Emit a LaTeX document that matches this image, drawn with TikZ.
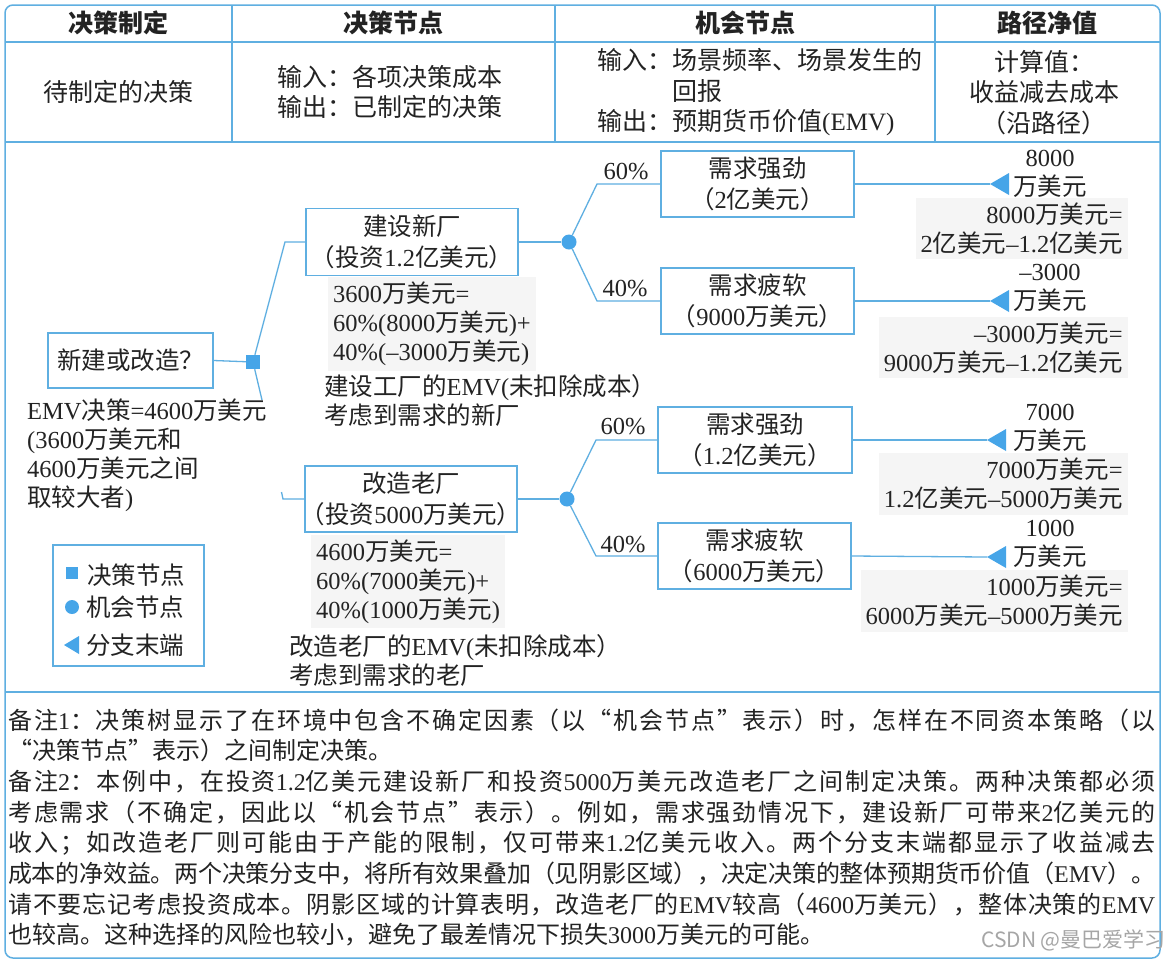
\documentclass[tikz,border=0pt]{standalone}
\usepackage{fontspec}
\setmainfont{Liberation Serif}
\newfontfamily\cjkfont{Noto Sans CJK SC}
\newfontfamily\latfont{Liberation Serif}
\newfontfamily\wmfont{Noto Sans CJK SC}
\newcount\mycc
\chardef\CJKcls=100
\def\setcjkrange#1#2{\mycc=#1\relax
  \loop\XeTeXcharclass\mycc=\CJKcls\relax
  \advance\mycc by 1\relax
  \ifnum\mycc<#2\repeat}
\setcjkrange{"3000}{"3040}
\setcjkrange{"4E00}{"A000}
\setcjkrange{"FF00}{"FFF0}
\XeTeXcharclass"201C=\CJKcls
\XeTeXcharclass"201D=\CJKcls
\XeTeXinterchartoks 0 \CJKcls = {\cjkfont}
\XeTeXinterchartoks 4095 \CJKcls = {\cjkfont}
\XeTeXinterchartoks \CJKcls 0 = {\latfont}
\XeTeXinterchartoks 4095 0 = {\latfont}
\XeTeXinterchartoks \CJKcls \CJKcls = {\hskip 0pt plus 6pt minus 1.2pt}
\XeTeXinterchartokenstate=1
\definecolor{lineblue}{RGB}{95,175,225}
\definecolor{symblue}{RGB}{70,165,232}
\definecolor{textc}{RGB}{35,35,35}
\definecolor{shadec}{RGB}{245,245,245}
\newcommand\myfhead{\fontsize{25}{30}\selectfont\bfseries}
\newcommand\myfrow{\fontsize{25}{30.5}\selectfont}
\newcommand\myfbody{\fontsize{24.5}{29}\selectfont}
\newcommand\myfbx{\fontsize{24.5}{31.5}\selectfont}
\newcommand\myfnote{\fontsize{24}{30.7}\selectfont}
\newcommand\mywm{\XeTeXinterchartokenstate=0 \wmfont\fontsize{21}{21}\selectfont}
\newlength\mynw
\setlength\mynw{1147pt}
\begin{document}
\begin{tikzpicture}[x=1pt,y=-1pt,
  fr/.style={draw=lineblue,line width=1.5pt},
  conn/.style={draw=lineblue,line width=1.3pt},
  hd/.style={inner sep=0pt,text=textc,font=\myfhead},
  rw/.style={inner sep=0pt,text=textc,font=\myfrow},
  tx/.style={inner sep=0pt,text=textc,font=\myfbody},
  sh/.style={tx,fill=shadec,inner sep=5pt},
  bx/.style={draw=lineblue,line width=1.3pt,inner sep=0pt,text=textc,font=\myfbx,align=center},
  dsq/.style={rectangle,fill=symblue,inner sep=0pt,minimum size=14pt},
  csym/.style={circle,fill=symblue,inner sep=0pt,minimum size=15pt},
  nt/.style={inner sep=0pt,text=textc,font=\myfnote,align=left}]
\useasboundingbox (0,0) rectangle (1164,962);
\fill[white] (0,0) rectangle (1164,962);
% frame and table
\draw[fr,rounded corners=8pt] (5,5) rectangle (1160,958);
\draw[fr] (5,42) -- (1160,42);
\draw[fr] (5,142) -- (1160,142);
\draw[fr] (5,692) -- (1160,692);
\draw[fr] (232,5) -- (232,142);
\draw[fr] (555,5) -- (555,142);
\draw[fr] (935,5) -- (935,142);
% header
\node[hd] (h1) at (118.5,23) {决策制定};
\node[hd] (h2) at (393.5,23) {决策节点};
\node[hd] (h3) at (745,23) {机会节点};
\node[hd] (h4) at (1047.5,23) {路径净值};
\node[rw] (r1) at (118,92) {待制定的决策};
\node[rw,align=left,anchor=west] (r2) at (277,92) {输入：各项决策成本\\输出：已制定的决策};
\node[rw,align=left,anchor=west] (r3) at (597,92.5) {输入：场景频率、场景发生的\\\hspace*{3em}回报\\输出：预期货币价值(EMV)};
\node[rw,align=center] (r4) at (1044,92.5) {计算值：\\收益减去成本\\（沿路径）};
% shaded calculation blocks
\node[sh,align=left,anchor=west] (e1) at (328,324) {3600万美元=\\60\%(8000万美元)+\\40\%(–3000万美元)};
\node[sh,align=left,anchor=west] (e2) at (311,581.5) {4600万美元=\\60\%(7000美元)+\\40\%(1000万美元)};
\node[sh,align=right,anchor=east] (v1) at (1128,228.5) {8000万美元=\\2亿美元–1.2亿美元};
\node[sh,align=right,anchor=east] (v2) at (1128,347.5) {–3000万美元=\\9000万美元–1.2亿美元};
\node[sh,align=right,anchor=east] (v3) at (1128,484) {7000万美元=\\1.2亿美元–5000万美元};
\node[sh,align=right,anchor=east] (v4) at (1128,601) {1000万美元=\\6000万美元–5000万美元};
% tree boxes
\node[bx,minimum width=165pt,minimum height=55pt] (q) at (130.5,360.5) {新建或改造？};
\node[bx,minimum width=212pt,minimum height=67pt] (newbox) at (412,242) {建设新厂\\（投资1.2亿美元）};
\node[bx,minimum width=212pt,minimum height=66pt] (oldbox) at (411,499) {改造老厂\\\makebox[196pt]{（投资5000万美元）}};
\node[bx,minimum width=193pt,minimum height=66pt] (s1) at (757.5,184) {需求强劲\\（2亿美元）};
\node[bx,minimum width=193pt,minimum height=66pt] (w1) at (757.5,301) {需求疲软\\（9000万美元）};
\node[bx,minimum width=194pt,minimum height=66pt] (s2) at (755,440) {需求强劲\\（1.2亿美元）};
\node[bx,minimum width=193pt,minimum height=66pt] (w2) at (754.5,556) {需求疲软\\（6000万美元）};
% symbols
\node[dsq] (dec) at (253,362) {};
\node[csym] (c1) at (569,242) {};
\node[csym] (c2) at (567,499) {};
\coordinate (t1) at (990,184);
\coordinate (t2) at (990,301);
\coordinate (t3) at (987,440);
\coordinate (t4) at (987,557);
\foreach \t in {t1,t2,t3,t4} \fill[symblue] (\t) -- ++(19,-11) -- ++(0,22) -- cycle;
% connectors
\coordinate (k1) at (285,242);
\coordinate (g1) at (262,400);
\coordinate (g2) at (281.5,492);
\coordinate (k2) at (283,499);
\draw[conn] (q.east) -- (dec);
\draw[conn] (dec) -- (k1) -- (newbox.west);
\draw[conn] (dec) -- (g1);
\draw[conn] (g2) -- (k2) -- (oldbox.west);
\draw[conn] (newbox.east) -- (c1);
\draw[conn] (oldbox.east) -- (c2);
\coordinate (u1) at (597,184);
\coordinate (l1) at (597,301);
\coordinate (u2) at (596,440);
\coordinate (l2) at (596,556);
\draw[conn] (c1) -- (u1) -- (s1.west);
\draw[conn] (c1) -- (l1) -- (w1.west);
\draw[conn] (c2) -- (u2) -- (s2.west);
\draw[conn] (c2) -- (l2) -- (w2.west);
\draw[conn] (s1.east) -- (t1);
\draw[conn] (w1.east) -- (t2);
\draw[conn] (s2.east) -- (t3);
\draw[conn] (w2.east) -- (t4);
% probabilities
\node[tx] (p1) at (626,172) {60\%};
\node[tx] (p2) at (625,289) {40\%};
\node[tx] (p3) at (623,427) {60\%};
\node[tx] (p4) at (623,545) {40\%};
% end values
\node[tx,align=center] (n1) at (1050,173.5) {8000\\万美元};
\node[tx,align=center] (n2) at (1050,287.5) {–3000\\万美元};
\node[tx,align=center] (n3) at (1050,427.5) {7000\\万美元};
\node[tx,align=center] (n4) at (1050,544) {1000\\万美元};
% other texts
\node[tx,align=left,anchor=west] (a1) at (324,401) {建设工厂的EMV(未扣除成本）\\考虑到需求的新厂};
\node[tx,align=left,anchor=west] (a2) at (289,661) {改造老厂的EMV(未扣除成本）\\考虑到需求的老厂};
\node[tx,align=left,anchor=west] (emv) at (27,455.5) {EMV决策=4600万美元\\(3600万美元和\\4600万美元之间\\取较大者)};
% legend
\node[draw=lineblue,line width=1.3pt,minimum width=151pt,minimum height=121pt,inner sep=0pt] (leg) at (128.5,605.5) {};
\fill[symblue] (66,567) rectangle (78,579);
\fill[symblue] (72,607) circle (7);
\fill[symblue] (64,645) -- ++(15,-9) -- ++(0,18) -- cycle;
\node[tx,anchor=west] (l1t) at (87,575) {决策节点};
\node[tx,anchor=west] (l2t) at (86,607) {机会节点};
\node[tx,anchor=west] (l3t) at (86,645) {分支末端};
% notes
\node[nt,anchor=west] (notes) at (8,827.5) {%
\makebox[\mynw][s]{备注1：决策树显示了在环境中包含不确定因素（以“机会节点”表示）时，怎样在不同资本策略（以}\\
“决策节点”表示）之间制定决策。\\
\makebox[\mynw][s]{备注2：本例中，在投资1.2亿美元建设新厂和投资5000万美元改造老厂之间制定决策。两种决策都必须}\\
\makebox[\mynw][s]{考虑需求（不确定，因此以“机会节点”表示）。例如，需求强劲情况下，建设新厂可带来2亿美元的}\\
\makebox[\mynw][s]{收入；如改造老厂则可能由于产能的限制，仅可带来1.2亿美元收入。两个分支末端都显示了收益减去}\\
\makebox[\mynw][s]{成本的净效益。两个决策分支中，将所有效果叠加（见阴影区域），决定决策的整体预期货币价值（EMV）。}\\
\makebox[\mynw][s]{请不要忘记考虑投资成本。阴影区域的计算表明，改造老厂的EMV较高（4600万美元），整体决策的EMV}\\
也较高。这种选择的风险也较小，避免了最差情况下损失3000万美元的可能。};
\node[font=\mywm,text=black!35,inner sep=0pt,anchor=east] (wm) at (1166,940) {CSDN @曼巴爱学习};
\end{tikzpicture}
\end{document}
